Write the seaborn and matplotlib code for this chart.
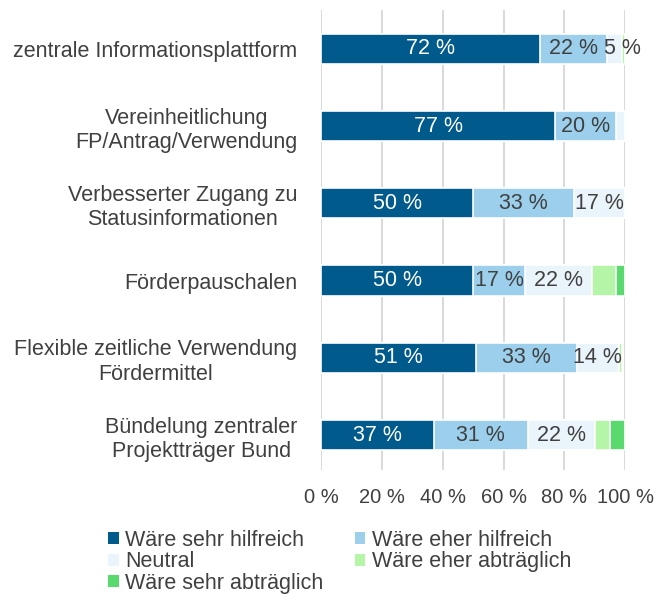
import numpy as np
import pandas as pd
import matplotlib.pyplot as plt
import seaborn as sns
from matplotlib.patches import Patch

items = [
    "zentrale Informationsplattform",
    "Vereinheitlichung\nFP/Antrag/Verwendung",
    "Verbesserter Zugang zu\nStatusinformationen",
    "Förderpauschalen",
    "Flexible zeitliche Verwendung\nFördermittel",
    "Bündelung zentraler\nProjektträger Bund",
]
series = ["Wäre sehr hilfreich", "Wäre eher hilfreich", "Neutral",
          "Wäre eher abträglich", "Wäre sehr abträglich"]
sehr_hilfreich = [72, 77, 50, 50, 51, 37]
eher_hilfreich = [22, 20, 33, 17, 33, 31]
neutral = [5, 3, 17, 22, 14, 22]
eher_abtraeglich = [1, 0, 0, 8, 1, 5]
sehr_abtraeglich = [0, 0, 0, 3, 0, 5]
# which segments carry a value label
show_label = [
    [1, 1, 1, 1, 1, 1],
    [1, 1, 1, 1, 1, 1],
    [1, 0, 1, 1, 1, 1],
    [0, 0, 0, 0, 0, 0],
    [0, 0, 0, 0, 0, 0],
]

colors = ["#005A8C", "#9BCFEC", "#EAF4FB", "#B5F5A7", "#59D96E"]
text_colors = ["white", "#404040", "#404040", "#404040", "#404040"]
grey = "#404040"
fs = 15.5

plt.rcParams["font.family"] = ["Liberation Sans", "DejaVu Sans"]

vals = np.array([sehr_hilfreich, eher_hilfreich, neutral,
                 eher_abtraeglich, sehr_abtraeglich], dtype=float)
cum = vals.cumsum(axis=0)

fig = plt.figure(figsize=(6.54, 5.94), dpi=100)
ax = fig.add_axes([0.491, 0.209, 0.465, 0.774])

# draw cumulative bars from the longest to the shortest
for i in range(len(series) - 1, -1, -1):
    df = pd.DataFrame({"item": items, "value": cum[i]})
    sns.barplot(data=df, x="value", y="item", orient="h", color=colors[i],
                width=0.39, edgecolor="white", linewidth=1.2, ax=ax,
                saturation=1, zorder=3)

for i in range(len(series)):
    for j in range(len(items)):
        if show_label[i][j] and vals[i, j] > 0:
            x = cum[i, j] - vals[i, j] / 2
            if vals[i, j] < 10:
                x += 2.5  # small label sits past the bar end
            ax.text(x, j, f"{int(vals[i, j])} %", ha="center", va="center",
                    color=text_colors[i], fontsize=fs, zorder=4)

ax.set_xlim(0, 100)
ax.set_ylim(5.45, -0.5)
ax.set_xticks(range(0, 101, 20))
ax.set_xticklabels([f"{t} %" for t in range(0, 101, 20)])
ax.set_xlabel("")
ax.set_ylabel("")
ax.grid(axis="x", color="#D9D9D9", linewidth=1.4, zorder=0)
ax.set_axisbelow(True)
for s in ax.spines.values():
    s.set_visible(False)
ax.tick_params(axis="both", length=0, labelsize=fs, colors=grey)
ax.tick_params(axis="x", labelsize=14.5, pad=13)
ax.tick_params(axis="y", pad=17)
for lab in ax.get_yticklabels():
    lab.set_multialignment("center")

handles = [Patch(facecolor=c, edgecolor="none", label=l) for c, l in zip(colors, series)]
order = [0, 2, 4, 1, 3]  # fill row by row
fig.legend(handles=[handles[k] for k in order], ncol=2, loc="upper left",
           bbox_to_anchor=(0.165, 0.108), frameon=False, fontsize=fs,
           handlelength=0.5, handleheight=0.5, handletextpad=0.3,
           columnspacing=1.45, labelspacing=0.02, labelcolor=grey,
           borderaxespad=0, borderpad=0)

fig.savefig("out.png", dpi=100)
